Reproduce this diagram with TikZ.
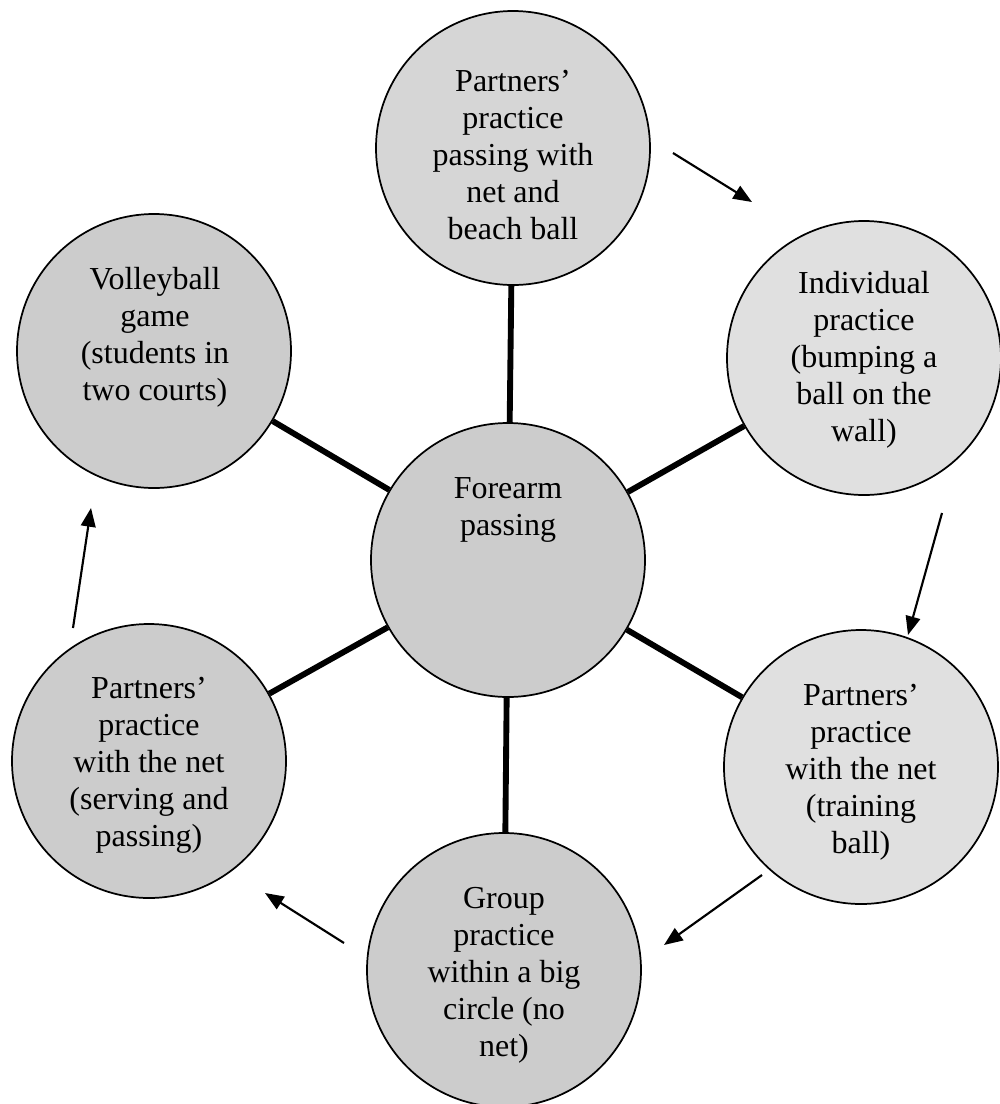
\documentclass[tikz,border=0pt]{standalone}
\usepackage{fontspec}
\setmainfont{Liberation Serif}
\usetikzlibrary{arrows.meta}
\definecolor{balldark}{gray}{0.80}
\definecolor{ballmid}{gray}{0.84}
\definecolor{balllight}{gray}{0.88}
\begin{document}
\begin{tikzpicture}[x=0.75pt,y=-0.75pt,
  ball/.style={circle,draw=black,line width=1.3pt,inner sep=0pt,minimum size=205.5pt},
  txt/.style={align=center,inner sep=0pt,font=\fontsize{24}{27.75}\selectfont},
  spoke/.style={line width=4.4pt},
  flow/.style={line width=1.6pt,-{Triangle[length=14pt,width=11pt]}}]
\useasboundingbox (0,0) rectangle (1000,1104);
\clip (0,0) rectangle (1000,1104);
% circles
\node[ball,fill=ballmid]   (t)  at (513,148) {};
\node[ball,fill=balllight] (ur) at (864,358) {};
\node[ball,fill=balllight] (lr) at (861,767) {};
\node[ball,fill=balldark]  (b)  at (504,970) {};
\node[ball,fill=balldark]  (ll) at (149,761) {};
\node[ball,fill=balldark]  (ul) at (154,351) {};
\node[ball,fill=balldark]  (c)  at (508,560) {};
% spokes
\draw[spoke] (c) -- (t);
\draw[spoke] (c) -- (ur);
\draw[spoke] (c) -- (lr);
\draw[spoke] (c) -- (b);
\draw[spoke] (c) -- (ll);
\draw[spoke] (c) -- (ul);
% texts
\node[txt] (tt)  at (513,155) {Partners’\\practice\\passing with\\net and\\beach ball};
\node[txt] (urt) at (864,360) {Individual\\practice\\(bumping a\\ball on the\\wall)};
\node[txt] (lrt) at (861,772) {Partners’\\practice\\with the net\\(training\\ball)};
\node[txt] (bt)  at (504,975) {Group\\practice\\within a big\\circle (no\\net)};
\node[txt] (llt) at (149,765) {Partners’\\practice\\with the net\\(serving and\\passing)};
\node[txt] (ult) at (155,337) {Volleyball\\game\\(students in\\two courts)};
\node[txt] (ct)  at (508,510) {Forearm\\passing};
% flow arrows
\coordinate (a1s) at (673,153); \coordinate (a1e) at (752,202);
\coordinate (a2s) at (942,513); \coordinate (a2e) at (908,635);
\coordinate (a3s) at (762,875); \coordinate (a3e) at (664,945);
\coordinate (a4s) at (344,943); \coordinate (a4e) at (265,893);
\coordinate (a5s) at (73,628);  \coordinate (a5e) at (91,508);
\draw[flow] (a1s) -- (a1e);
\draw[flow] (a2s) -- (a2e);
\draw[flow] (a3s) -- (a3e);
\draw[flow] (a4s) -- (a4e);
\draw[flow] (a5s) -- (a5e);
\end{tikzpicture}
\end{document}
